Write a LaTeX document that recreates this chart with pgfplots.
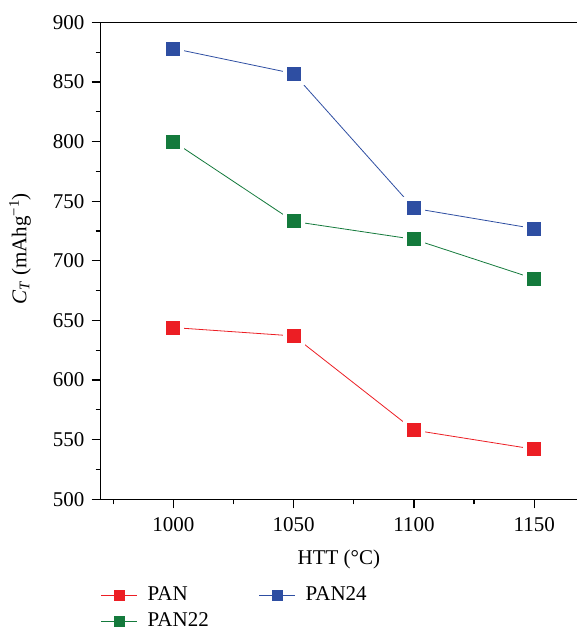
\documentclass[border=0pt]{standalone}
\usepackage{fontspec}
\setmainfont{Liberation Serif}
\usepackage{pgfplots}
\pgfplotsset{compat=1.18}

\definecolor{panred}{RGB}{236,30,36}
\definecolor{pangreen}{RGB}{20,122,60}
\definecolor{panblue}{RGB}{46,78,162}

\begin{document}
\fontsize{21pt}{25pt}\selectfont
\begin{tikzpicture}
\begin{axis}[
  name=ax,
  scale only axis,
  width=476.3pt, height=477pt,
  xmin=969.75, xmax=1167.8,
  ymin=500, ymax=900,
  axis x line*=bottom, axis y line*=left,
  axis line style={-, line width=1.2pt},
  xtick={1000,1050,1100,1150},
  minor xtick={975,1025,1075,1125},
  ytick={500,550,...,900},
  minor ytick={525,575,...,875},
  tick align=outside,
  major tick length=9pt, minor tick length=5pt,
  every tick/.style={black, line width=1.2pt},
  /pgf/number format/assume math mode=true,
  /pgf/number format/1000 sep={},
  ticklabel style={font=\fontsize{21pt}{25pt}\selectfont},
  xticklabel style={yshift=-2pt},
  xlabel={HTT (°C)},
  ylabel={\textit{C}\textsubscript{\textit{T}} (mAhg\textsuperscript{−1})},
  label style={font=\fontsize{21pt}{25pt}\selectfont},
  xlabel style={at={(axis description cs:0.5,0)}, anchor=base, yshift=-64.7pt},
  ylabel style={at={(axis description cs:0,0.525)}, anchor=center, yshift=80.7pt},
  clip=false,
  legend columns=2,
  legend cell align=left,
  legend style={at={(axis description cs:0,-0.178)}, anchor=north west, draw=none,
    fill=none, font=\fontsize{21pt}{25pt}\selectfont, inner sep=0pt,
    row sep=5pt,
    /tikz/every even column/.append style={column sep=48pt}},
  legend image code/.code={
    \draw[#1, mark=none] (0pt,0pt) -- (36pt,0pt);
    \fill[#1] (13pt,-5pt) rectangle (23pt,5pt);
    \path (44pt,0pt);
  },
  every axis plot/.append style={line width=0.8pt, mark=square*, mark size=9pt},
]
\draw[line width=1.2pt] (rel axis cs:0,1) -- (rel axis cs:1,1);
\addplot[panred, mark options={fill=panred, draw=white, line width=4pt}] coordinates {
(1000,644) (1050,637) (1100,558) (1150,542)
};
\addlegendentry{PAN}
\addplot[panblue, mark options={fill=panblue, draw=white, line width=4pt}] coordinates {
(1000,878) (1050,857) (1100,744) (1150,727)
};
\addlegendentry{PAN24}
\addplot[pangreen, mark options={fill=pangreen, draw=white, line width=4pt}] coordinates {
(1000,800) (1050,733) (1100,718) (1150,685)
};
\addlegendentry{PAN22}
\end{axis}
\pgfresetboundingbox
\path[use as bounding box] (-100.7pt,-130.7pt) rectangle (476.3pt,499.3pt);
\end{tikzpicture}
\end{document}
